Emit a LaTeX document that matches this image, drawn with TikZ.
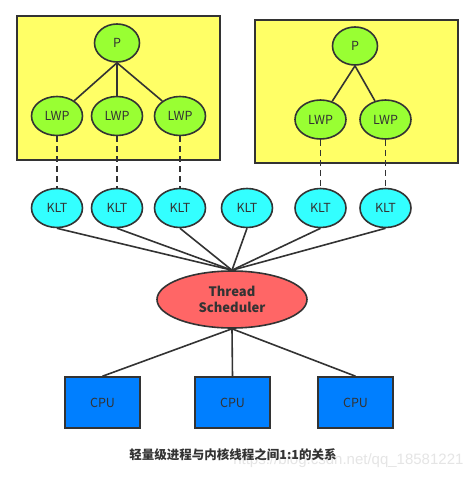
\documentclass[tikz,border=0pt]{standalone}
\usepackage{fontspec}
\setmainfont{Noto Sans CJK SC}
\newfontfamily\wmfont{Liberation Sans}
\usetikzlibrary{shapes.geometric}
\definecolor{ink}{HTML}{333333}
\definecolor{boxyellow}{HTML}{FFFF66}
\definecolor{procgreen}{HTML}{99FF33}
\definecolor{kltcyan}{HTML}{33FFFF}
\definecolor{schedred}{HTML}{FF6666}
\definecolor{cpublue}{HTML}{007FFF}
\begin{document}
\begin{tikzpicture}[x=1pt,y=-1pt,
  stroke/.style={draw=ink, line width=1.6pt},
  procbox/.style={stroke, fill=boxyellow, rectangle},
  el/.style={stroke, ellipse, inner sep=0pt, font=\fontsize{12.5}{14}\selectfont, text=ink},
  pnode/.style={el, fill=procgreen, minimum width=45, minimum height=38},
  lwp/.style={el, fill=procgreen, minimum width=51, minimum height=39},
  klt/.style={el, fill=kltcyan, minimum width=51, minimum height=39},
  sched/.style={el, fill=schedred, minimum width=150, minimum height=57, align=center, font=\fontsize{13}{15.5}\selectfont\bfseries},
  cpu/.style={stroke, fill=cpublue, minimum width=75, minimum height=51, inner sep=0pt, font=\fontsize{12.5}{14}\selectfont, text=ink},
  link/.style={draw=ink, line width=1.6pt},
  dlink/.style={draw=ink, line width=1.8pt, dash pattern=on 6pt off 4pt}]
\useasboundingbox[fill=white] (0,0) rectangle (474,480);
\node[procbox, minimum width=203, minimum height=144, anchor=north west] (box1) at (16,15) {};
\node[procbox, minimum width=203, minimum height=143, anchor=north west] (box2) at (254,19) {};
\node[pnode] (p1) at (117,43) {P};
\node[lwp] (l1) at (57,116) {LWP};
\node[lwp] (l2) at (117,116) {LWP};
\node[lwp] (l3) at (180,116) {LWP};
\node[pnode] (p2) at (355,46) {P};
\node[lwp] (l4) at (320.5,119.5) {LWP};
\node[lwp] (l5) at (385.5,119.5) {LWP};
\node[klt] (k1) at (57,208) {KLT};
\node[klt] (k2) at (117,208) {KLT};
\node[klt] (k3) at (180,208) {KLT};
\node[klt] (k4) at (247,208) {KLT};
\node[klt] (k5) at (320.5,208) {KLT};
\node[klt] (k6) at (385.5,208) {KLT};
\node[sched] (s) at (232,299.5) {Thread\\Scheduler};
\node[cpu] (c1) at (102.5,402.5) {CPU};
\node[cpu] (c2) at (232.5,402.5) {CPU};
\node[cpu] (c3) at (355.5,402.5) {CPU};
\draw[link] (p1.south) -- (l1);
\draw[link] (p1.south) -- (l2.north);
\draw[link] (p1.south) -- (l3);
\draw[link] (p2.south) -- (l4);
\draw[link] (p2.south) -- (l5);
\foreach \a/\b in {l1/k1,l2/k2,l3/k3,l4/k5,l5/k6} \draw[dlink] (\a.south) -- (\b.north);
\foreach \k in {k1,k2,k3,k4,k5,k6} \draw[link] (\k.south) -- (s.north);
\draw[link] (s.south) -- (c1.north);
\draw[link] (s.south) -- (c2.north);
\draw[link] (s.south) -- (c3.north);
\node[font=\wmfont\fontsize{15}{17}\selectfont, text=black!10, anchor=east] (wm) at (467,461) {https://blog.csdn.net/qq\_18581221};
\node[font=\fontsize{12.5}{14}\selectfont\bfseries, text=ink] (cap) at (233,455) {轻量级进程与内核线程之间1:1的关系};
\end{tikzpicture}
\end{document}
